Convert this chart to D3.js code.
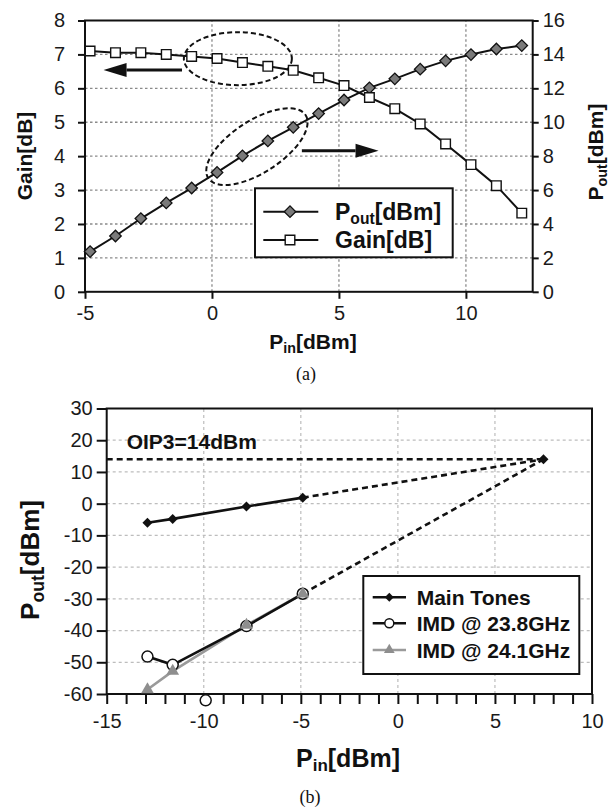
<!DOCTYPE html>
<html>
<head>
<meta charset="utf-8">
<script src="https://cdn.jsdelivr.net/npm/d3@7"></script>
<style>
  body { margin: 0; background: #fff; }
  svg { display: block; font-family: "Liberation Sans", Arial, sans-serif; }
</style>
</head>
<body>
<svg id="chart" width="615" height="809"></svg>
<script>
// ---- (a) gain / output power vs input power ----
const pinA = [-4.8, -3.8, -2.8, -1.8, -0.8, 0.2, 1.2, 2.2, 3.2, 4.2, 5.2, 6.2, 7.2, 8.2, 9.2, 10.2, 11.2, 12.2];
const gainA = [7.10, 7.05, 7.05, 7.00, 6.94, 6.88, 6.76, 6.65, 6.53, 6.31, 6.08, 5.73, 5.40, 4.95, 4.36, 3.75, 3.13, 2.32];
const poutA = [2.37, 3.29, 4.32, 5.24, 6.12, 7.04, 8.02, 8.90, 9.70, 10.51, 11.31, 12.03, 12.56, 13.13, 13.62, 13.99, 14.32, 14.52];
const xTicksA = [-5, 0, 5, 10];
const gainTicks = [0, 1, 2, 3, 4, 5, 6, 7, 8];
const poutTicks = [0, 2, 4, 6, 8, 10, 12, 14, 16];

// ---- (b) two-tone test ----
const pinB = [-12.9, -11.6, -7.8, -4.9];
const mainTones = [-6.0, -4.8, -0.9, 1.9];
const imd238 = [-48.2, -50.8, -38.6, -28.4];
const imd241 = [-58.6, -52.8, -38.3, -28.4];
const strayPin = [-9.9];      // lone 23.8GHz point below the axis
const strayImd = [-62.0];
const oip3 = 14;              // dBm
const iip3 = 7.5;             // dBm, where the extrapolations meet
const xTicksB = [-15, -10, -5, 0, 5, 10];
const yTicksB = [-60, -50, -40, -30, -20, -10, 0, 10, 20, 30];

const svg = d3.select('#chart');
svg.append('rect').attr('width', 615).attr('height', 809).attr('fill', '#fff');

// helper: text with a subscript part
function subText(g, main, sub, rest) {
    g.append('tspan').text(main);
    g.append('tspan').attr('font-size', '0.68em').attr('dy', '0.25em').text(sub);
    g.append('tspan').attr('dy', '-0.17em').text(rest);
    return g;
}

const plain = d => String(d);   // keep ascii hyphen like the original
const diamond = d3.symbol().type(d3.symbolSquare);

/* ================= chart (a) ================= */
const xA = d3.scaleLinear().domain([-5, 12.63]).range([85, 532.7]);
const yL = d3.scaleLinear().domain([0, 8]).range([291.8, 20.5]);
const yR = d3.scaleLinear().domain([0, 16]).range([291.8, 20.5]);

const ga = svg.append('g');

// grid
ga.append('g').selectAll('line.gy').data(gainTicks.filter(d => d > 0 && d < 8)).join('line')
    .attr('x1', xA(-5)).attr('x2', xA(12.63))
    .attr('y1', d => yL(d)).attr('y2', d => yL(d))
    .attr('stroke', '#8a8a8a').attr('stroke-width', 1.3).attr('stroke-dasharray', '2.5,2.5');
ga.append('g').selectAll('line.gx').data(xTicksA.filter(d => d > -5)).join('line')
    .attr('x1', d => xA(d)).attr('x2', d => xA(d))
    .attr('y1', yL(0)).attr('y2', yL(8))
    .attr('stroke', '#8a8a8a').attr('stroke-width', 1.3).attr('stroke-dasharray', '2.5,2.5');

// frame
ga.append('rect').attr('x', xA(-5)).attr('y', yL(8))
    .attr('width', xA(12.63) - xA(-5)).attr('height', yL(0) - yL(8))
    .attr('fill', 'none').attr('stroke', '#111').attr('stroke-width', 2);

// axes
const axA = ga.append('g').attr('transform', `translate(0,${yL(0)})`)
    .call(d3.axisBottom(xA).tickValues(xTicksA).tickFormat(plain).tickSize(7).tickPadding(7));
const ayL = ga.append('g').attr('transform', `translate(${xA(-5)},0)`)
    .call(d3.axisLeft(yL).tickValues(gainTicks).tickFormat(plain).tickSize(7).tickPadding(13));
const ayR = ga.append('g').attr('transform', `translate(${xA(12.63)},0)`)
    .call(d3.axisRight(yR).tickValues(poutTicks).tickFormat(plain).tickSize(6).tickPadding(4));
[axA, ayL, ayR].forEach(a => {
    a.select('.domain').remove();
    a.selectAll('line').attr('stroke', '#111').attr('stroke-width', 2);
    a.selectAll('text').attr('font-size', 20).attr('fill', '#1a1a1a')
        .attr('font-family', '"Liberation Sans", Arial, sans-serif');
});

// dashed ellipses and arrows (annotation)
ga.append('ellipse')
    .attr('cx', xA(1.02)).attr('cy', yL(6.875))
    .attr('rx', 54).attr('ry', 26.5)
    .attr('fill', 'none').attr('stroke', '#111').attr('stroke-width', 2).attr('stroke-dasharray', '5,3');
ga.append('ellipse')
    .attr('transform', `translate(${xA(1.77)},${yL(4.28)}) rotate(-33)`)
    .attr('rx', 58).attr('ry', 26)
    .attr('fill', 'none').attr('stroke', '#111').attr('stroke-width', 2).attr('stroke-dasharray', '5,3');

function arrow(g, x0, x1, y) {
    const dir = Math.sign(x1 - x0);
    const headLen = 23;
    g.append('line').attr('x1', x0).attr('x2', x1 - dir * headLen).attr('y1', y).attr('y2', y)
        .attr('stroke', '#111').attr('stroke-width', 3);
    g.append('path')
        .attr('d', `M${x1},${y}L${x1 - dir * headLen},${y - 7}L${x1 - dir * headLen},${y + 7}Z`)
        .attr('fill', '#111');
}
arrow(ga, xA(-1.18), xA(-4.27), yL(6.54));
arrow(ga, xA(3.54), xA(6.56), yL(4.16));

// lines
const gainLine = d3.line().x((d, i) => xA(pinA[i])).y(d => yL(d));
const poutLine = d3.line().x((d, i) => xA(pinA[i])).y(d => yR(d));
ga.append('path').datum(gainA).attr('d', gainLine)
    .attr('fill', 'none').attr('stroke', '#111').attr('stroke-width', 2);
ga.append('path').datum(poutA).attr('d', poutLine)
    .attr('fill', 'none').attr('stroke', '#111').attr('stroke-width', 2);

// markers
ga.append('g').selectAll('path').data(poutA).join('path')
    .attr('d', diamond.size(66)())
    .attr('transform', (d, i) => `translate(${xA(pinA[i])},${yR(d)}) rotate(45)`)
    .attr('fill', '#7a7a7a').attr('stroke', '#111').attr('stroke-width', 1.3);
ga.append('g').selectAll('path').data(gainA).join('path')
    .attr('d', d3.symbol().type(d3.symbolSquare).size(92)())
    .attr('transform', (d, i) => `translate(${xA(pinA[i])},${yL(d)})`)
    .attr('fill', '#fff').attr('stroke', '#111').attr('stroke-width', 1.4);

// legend (a)
const lgA = ga.append('g');
lgA.append('rect').attr('x', 255).attr('y', 188.3).attr('width', 197.7).attr('height', 69)
    .attr('fill', '#fff').attr('stroke', '#111').attr('stroke-width', 2);
const legA = [
    { y: 211.7, kind: 'diamond', main: 'P', sub: 'out', rest: '[dBm]' },
    { y: 240, kind: 'square', main: 'Gain[dB]', sub: '', rest: '' }
];
legA.forEach(e => {
    lgA.append('line').attr('x1', 263.3).attr('x2', 318.3).attr('y1', e.y).attr('y2', e.y)
        .attr('stroke', '#111').attr('stroke-width', 2);
    if (e.kind === 'diamond') {
        lgA.append('path').attr('d', diamond.size(66)())
            .attr('transform', `translate(290,${e.y}) rotate(45)`)
            .attr('fill', '#7a7a7a').attr('stroke', '#111').attr('stroke-width', 1.3);
    } else {
        lgA.append('path').attr('d', d3.symbol().type(d3.symbolSquare).size(92)())
            .attr('transform', `translate(290,${e.y})`)
            .attr('fill', '#fff').attr('stroke', '#111').attr('stroke-width', 1.4);
    }
    const t = lgA.append('text').attr('x', 335).attr('y', e.y).attr('dy', '0.36em')
        .attr('font-size', 23).attr('font-weight', 'bold').attr('fill', '#111');
    if (e.sub) subText(t, e.main, e.sub, e.rest); else t.text(e.main);
});

// axis titles (a)
ga.append('text').attr('transform', 'translate(25,156) rotate(-90)')
    .attr('text-anchor', 'middle').attr('dy', '0.35em')
    .attr('font-size', 21).attr('font-weight', 'bold').attr('fill', '#111').text('Gain[dB]');
subText(ga.append('text').attr('transform', 'translate(596,152) rotate(-90)')
    .attr('text-anchor', 'middle').attr('dy', '0.35em')
    .attr('font-size', 21).attr('font-weight', 'bold').attr('fill', '#111'), 'P', 'out', '[dBm]');
subText(ga.append('text').attr('x', 313).attr('y', 349)
    .attr('text-anchor', 'middle')
    .attr('font-size', 21).attr('font-weight', 'bold').attr('fill', '#111'), 'P', 'in', '[dBm]');
ga.append('text').attr('x', 306).attr('y', 380).attr('text-anchor', 'middle')
    .attr('font-family', '"Liberation Serif", "Times New Roman", serif')
    .attr('font-size', 18).attr('fill', '#111').text('(a)');

/* ================= chart (b) ================= */
const xB = d3.scaleLinear().domain([-15, 10]).range([106.7, 592]);
const yB = d3.scaleLinear().domain([-60, 30]).range([694, 408.5]);

const gb = svg.append('g');

gb.append('g').selectAll('line').data(yTicksB.filter(d => d > -60 && d < 30)).join('line')
    .attr('x1', xB(-15)).attr('x2', xB(10)).attr('y1', d => yB(d)).attr('y2', d => yB(d))
    .attr('stroke', '#bdbdbd').attr('stroke-width', 1.2).attr('stroke-dasharray', '3,3');
gb.append('g').selectAll('line').data(xTicksB.filter(d => d > -15 && d < 10)).join('line')
    .attr('x1', d => xB(d)).attr('x2', d => xB(d)).attr('y1', yB(-60)).attr('y2', yB(30))
    .attr('stroke', '#bdbdbd').attr('stroke-width', 1.2).attr('stroke-dasharray', '3,3');

gb.append('rect').attr('x', xB(-15)).attr('y', yB(30))
    .attr('width', xB(10) - xB(-15)).attr('height', yB(-60) - yB(30))
    .attr('fill', 'none').attr('stroke', '#111').attr('stroke-width', 2);

const axB = gb.append('g').attr('transform', `translate(0,${yB(-60)})`)
    .call(d3.axisBottom(xB).ticks(25).tickSize(10).tickPadding(10)
        .tickFormat(d => xTicksB.includes(d) ? String(d) : ''));
const ayB = gb.append('g').attr('transform', `translate(${xB(-15)},0)`)
    .call(d3.axisLeft(yB).tickValues(yTicksB).tickFormat(plain).tickSize(10).tickPadding(4));
[axB, ayB].forEach(a => {
    a.select('.domain').remove();
    a.selectAll('line').attr('stroke', '#111').attr('stroke-width', 2);
    a.selectAll('text').attr('font-size', 20).attr('fill', '#1a1a1a')
        .attr('font-family', '"Liberation Sans", Arial, sans-serif');
});

// extrapolation lines to the intercept point
const dashStyle = s => s.attr('fill', 'none').attr('stroke', '#111').attr('stroke-width', 2.6).attr('stroke-dasharray', '6,4');
dashStyle(gb.append('line').attr('x1', xB(-15)).attr('x2', xB(iip3)).attr('y1', yB(oip3)).attr('y2', yB(oip3)));
dashStyle(gb.append('line').attr('x1', xB(pinB[3])).attr('y1', yB(mainTones[3])).attr('x2', xB(iip3)).attr('y2', yB(oip3)));
dashStyle(gb.append('line').attr('x1', xB(pinB[3])).attr('y1', yB(imd238[3])).attr('x2', xB(iip3)).attr('y2', yB(oip3)));
gb.append('path').attr('d', diamond.size(50)())
    .attr('transform', `translate(${xB(iip3)},${yB(oip3)}) rotate(45)`).attr('fill', '#111');

gb.append('text').attr('x', 126.7).attr('y', 449.3)
    .attr('font-size', 21).attr('font-weight', 'bold').attr('fill', '#111').text('OIP3=14dBm');

const lineB = d3.line().x((d, i) => xB(pinB[i])).y(d => yB(d));
gb.append('path').datum(imd241).attr('d', lineB)
    .attr('fill', 'none').attr('stroke', '#9a9a9a').attr('stroke-width', 2.6);
gb.append('path').datum(imd238).attr('d', lineB)
    .attr('fill', 'none').attr('stroke', '#111').attr('stroke-width', 2.6);
gb.append('path').datum(mainTones).attr('d', lineB)
    .attr('fill', 'none').attr('stroke', '#111').attr('stroke-width', 2.6);

gb.append('g').selectAll('path').data(mainTones).join('path')
    .attr('d', diamond.size(50)())
    .attr('transform', (d, i) => `translate(${xB(pinB[i])},${yB(d)}) rotate(45)`)
    .attr('fill', '#111');
gb.append('g').selectAll('circle').data(imd238).join('circle')
    .attr('cx', (d, i) => xB(pinB[i])).attr('cy', d => yB(d)).attr('r', 5.5)
    .attr('fill', '#fff').attr('stroke', '#111').attr('stroke-width', 1.5);
gb.append('g').selectAll('circle').data(strayImd).join('circle')
    .attr('cx', (d, i) => xB(strayPin[i])).attr('cy', d => yB(d)).attr('r', 5.5)
    .attr('fill', '#fff').attr('stroke', '#111').attr('stroke-width', 1.5);
const tri = d3.symbol().type(d3.symbolTriangle).size(70);
gb.append('g').selectAll('path').data(imd241).join('path')
    .attr('d', tri())
    .attr('transform', (d, i) => `translate(${xB(pinB[i])},${yB(d)})`)
    .attr('fill', '#8e8e8e');

// legend (b)
const lgB = gb.append('g');
lgB.append('rect').attr('x', 363.3).attr('y', 576).attr('width', 216).attr('height', 98)
    .attr('fill', '#fff').attr('stroke', '#111').attr('stroke-width', 2);
const legB = [
    { y: 597.3, label: 'Main Tones', stroke: '#111', kind: 'diamond' },
    { y: 623.3, label: 'IMD @ 23.8GHz', stroke: '#111', kind: 'circle' },
    { y: 650, label: 'IMD @ 24.1GHz', stroke: '#9a9a9a', kind: 'triangle' }
];
legB.forEach(e => {
    lgB.append('line').attr('x1', 372.7).attr('x2', 406).attr('y1', e.y).attr('y2', e.y)
        .attr('stroke', e.stroke).attr('stroke-width', 2.6);
    if (e.kind === 'diamond') {
        lgB.append('path').attr('d', diamond.size(40)())
            .attr('transform', `translate(389.3,${e.y}) rotate(45)`).attr('fill', '#111');
    } else if (e.kind === 'circle') {
        lgB.append('circle').attr('cx', 389.3).attr('cy', e.y).attr('r', 4.5)
            .attr('fill', '#fff').attr('stroke', '#111').attr('stroke-width', 1.5);
    } else {
        lgB.append('path').attr('d', d3.symbol().type(d3.symbolTriangle).size(50)())
            .attr('transform', `translate(389.3,${e.y})`).attr('fill', '#8e8e8e');
    }
    lgB.append('text').attr('x', 416.7).attr('y', e.y).attr('dy', '0.36em')
        .attr('font-size', 21).attr('font-weight', 'bold').attr('fill', '#111').text(e.label);
});

// axis titles (b)
subText(gb.append('text').attr('transform', 'translate(30,560) rotate(-90)')
    .attr('text-anchor', 'middle').attr('dy', '0.35em')
    .attr('font-size', 26).attr('font-weight', 'bold').attr('fill', '#111'), 'P', 'out', '[dBm]');
subText(gb.append('text').attr('x', 348).attr('y', 767)
    .attr('text-anchor', 'middle')
    .attr('font-size', 25).attr('font-weight', 'bold').attr('fill', '#111'), 'P', 'in', '[dBm]');
gb.append('text').attr('x', 310).attr('y', 803).attr('text-anchor', 'middle')
    .attr('font-family', '"Liberation Serif", "Times New Roman", serif')
    .attr('font-size', 18).attr('fill', '#111').text('(b)');
</script>
</body>
</html>
